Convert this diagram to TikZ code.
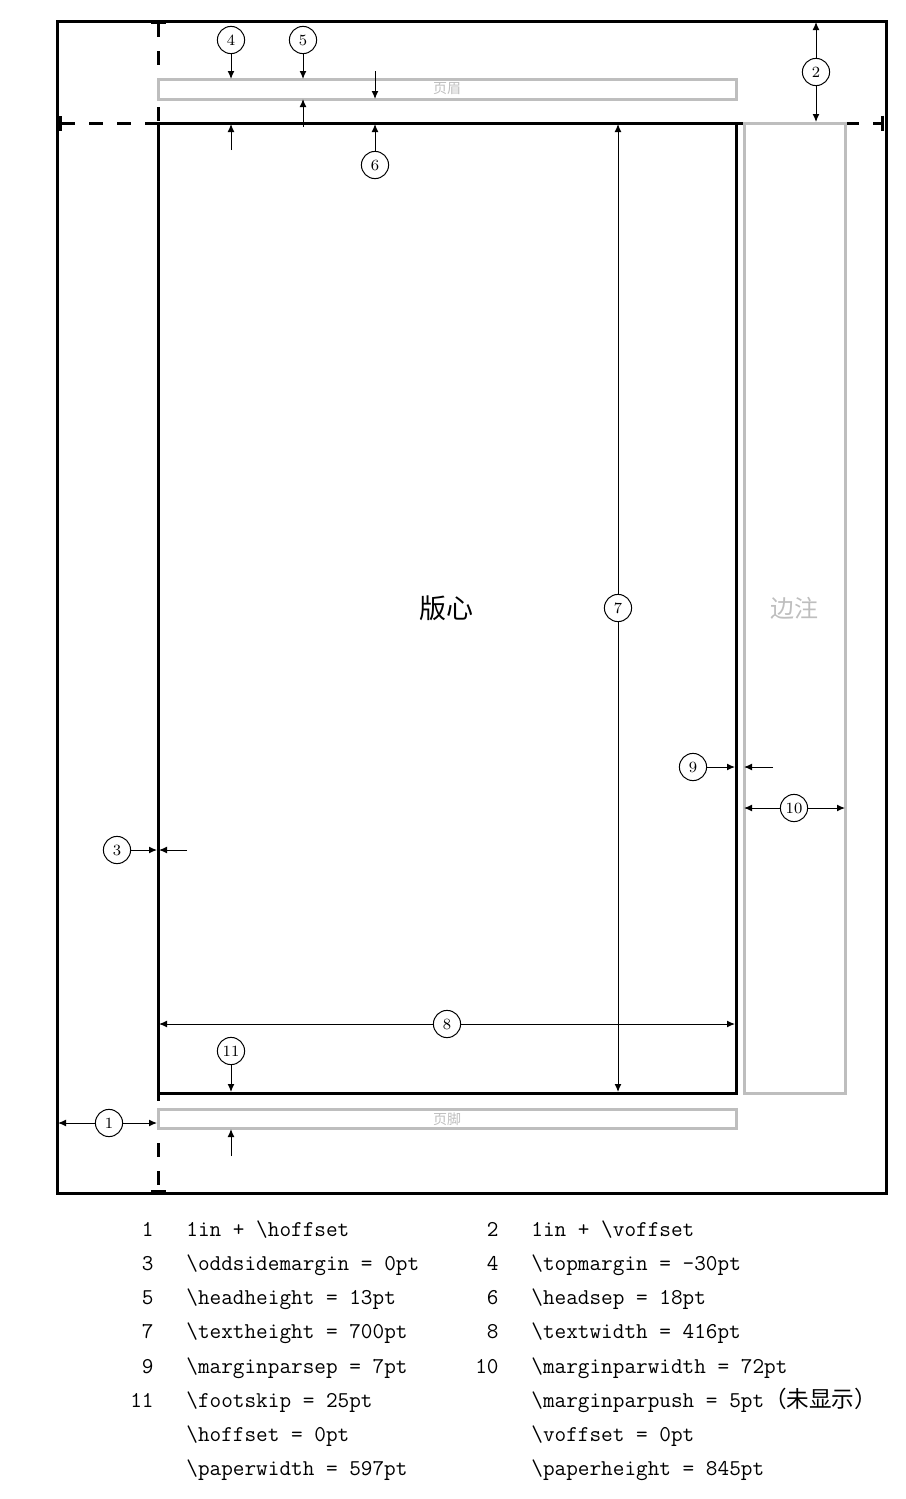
\documentclass[tikz,border=0pt]{standalone}
\usepackage{fontspec}
\newfontfamily\cjk{Noto Sans CJK SC}
\usetikzlibrary{arrows.meta}
\definecolor{boxgray}{RGB}{190,190,190}
\begin{document}
\begin{tikzpicture}[x=0.5pt,y=-0.5pt,
  thickline/.style={line width=1.5pt},
  dashline/.style={line width=1.5pt,dash pattern=on 7pt off 7pt,{Bar[width=7.5pt]}-{Bar[width=7.5pt]}},
  graybox/.style={draw=boxgray,line width=1.5pt},
  num/.style={circle,draw,line width=0.5pt,minimum size=13.6pt,inner sep=0pt,fill=white,font=\fontsize{7.8}{8}\selectfont},
  dim/.style={line width=0.5pt,-{Latex[length=4pt,width=3.4pt]}},
  leg/.style={anchor=base west,font=\fontsize{11.3}{13}\selectfont\ttfamily,inner sep=0pt},
  legnum/.style={anchor=base east,font=\fontsize{11.3}{13}\selectfont\ttfamily,inner sep=0pt},
]
\useasboundingbox (0,0) rectangle (905,1499);

% dashed reference lines
\draw[dashline] (158,21) -- (158,1193);
\draw[dashline] (59,123) -- (884,123);

% paper
\draw[thickline] (57,21) rectangle (886,1193);

% boxes
\draw[graybox] (158,79) rectangle (736,99);
\node[text=boxgray,font=\cjk\fontsize{7}{8}\selectfont] (head) at (447,89) {页眉};
\draw[graybox] (158,1109) rectangle (736,1128);
\node[text=boxgray,font=\cjk\fontsize{7}{8}\selectfont] (foot) at (447,1119) {页脚};
\draw[graybox] (744,123) rectangle (845,1093);
\node[text=boxgray,font=\cjk\fontsize{12}{14}\selectfont] (mpar) at (794,608) {边注};
\draw[thickline] (158,123) rectangle (736,1093);
\node[font=\cjk\fontsize{13.5}{16}\selectfont] (body) at (446,608) {版心};

% target coordinates
\coordinate (t1l) at (58,1123);
\coordinate (t1r) at (157,1123);
\coordinate (t2u) at (816,22);
\coordinate (t2d) at (816,122);
\coordinate (t3a) at (157,850);
\coordinate (s3b) at (187,850);
\coordinate (t3b) at (159,850);
\coordinate (t4a) at (231,79);
\coordinate (s4b) at (231,150);
\coordinate (t4b) at (231,124);
\coordinate (t5a) at (303,79);
\coordinate (s5b) at (303,127);
\coordinate (t5b) at (303,99);
\coordinate (s6a) at (375,71);
\coordinate (t6a) at (375,99);
\coordinate (t6b) at (375,124);
\coordinate (t7u) at (618,124);
\coordinate (t7d) at (618,1092);
\coordinate (t8l) at (159,1024);
\coordinate (t8r) at (735,1024);
\coordinate (t9a) at (735,767);
\coordinate (s9b) at (773,767);
\coordinate (t9b) at (744,767);
\coordinate (t10l) at (744,808);
\coordinate (t10r) at (845,808);
\coordinate (t11a) at (231,1092);
\coordinate (s11b) at (231,1156);
\coordinate (t11b) at (231,1129);

% numbered circles
\node[num] (c1) at (109,1123) {1};
\node[num] (c2) at (816,72) {2};
\node[num] (c3) at (117,850) {3};
\node[num] (c4) at (231,40) {4};
\node[num] (c5) at (303,40) {5};
\node[num] (c6) at (375,165) {6};
\node[num] (c7) at (618,608) {7};
\node[num] (c8) at (447,1024) {8};
\node[num] (c9) at (693,767) {9};
\node[num] (c10) at (794,808) {10};
\node[num] (c11) at (231,1051) {11};

% dimension arrows
\draw[dim] (c1) -- (t1l);
\draw[dim] (c1) -- (t1r);
\draw[dim] (c2) -- (t2u);
\draw[dim] (c2) -- (t2d);
\draw[dim] (c3) -- (t3a);
\draw[dim] (s3b) -- (t3b);
\draw[dim] (c4) -- (t4a);
\draw[dim] (s4b) -- (t4b);
\draw[dim] (c5) -- (t5a);
\draw[dim] (s5b) -- (t5b);
\draw[dim] (s6a) -- (t6a);
\draw[dim] (c6) -- (t6b);
\draw[dim] (c7) -- (t7u);
\draw[dim] (c7) -- (t7d);
\draw[dim] (c8) -- (t8l);
\draw[dim] (c8) -- (t8r);
\draw[dim] (c9) -- (t9a);
\draw[dim] (s9b) -- (t9b);
\draw[dim] (c10) -- (t10l);
\draw[dim] (c10) -- (t10r);
\draw[dim] (c11) -- (t11a);
\draw[dim] (s11b) -- (t11b);

% legend
\node[legnum] (n1) at (154,1236) {1};
\node[leg] (l1) at (186,1236) {1in + \textbackslash hoffset};
\node[legnum] (n2) at (499,1236) {2};
\node[leg] (l2) at (531,1236) {1in + \textbackslash voffset};
\node[legnum] (n3) at (154,1270) {3};
\node[leg] (l3) at (186,1270) {\textbackslash oddsidemargin = 0pt};
\node[legnum] (n4) at (499,1270) {4};
\node[leg] (l4) at (531,1270) {\textbackslash topmargin = -30pt};
\node[legnum] (n5) at (154,1304) {5};
\node[leg] (l5) at (186,1304) {\textbackslash headheight = 13pt};
\node[legnum] (n6) at (499,1304) {6};
\node[leg] (l6) at (531,1304) {\textbackslash headsep = 18pt};
\node[legnum] (n7) at (154,1338) {7};
\node[leg] (l7) at (186,1338) {\textbackslash textheight = 700pt};
\node[legnum] (n8) at (499,1338) {8};
\node[leg] (l8) at (531,1338) {\textbackslash textwidth = 416pt};
\node[legnum] (n9) at (154,1373) {9};
\node[leg] (l9) at (186,1373) {\textbackslash marginparsep = 7pt};
\node[legnum] (n10) at (499,1373) {10};
\node[leg] (l10) at (531,1373) {\textbackslash marginparwidth = 72pt};
\node[legnum] (n11) at (154,1407) {11};
\node[leg] (l11) at (186,1407) {\textbackslash footskip = 25pt};
\node[leg] (l12) at (531,1407) {\textbackslash marginparpush = 5pt{\cjk （未显示）}};
\node[leg] (l13) at (186,1441) {\textbackslash hoffset = 0pt};
\node[leg] (l14) at (531,1441) {\textbackslash voffset = 0pt};
\node[leg] (l15) at (186,1475) {\textbackslash paperwidth = 597pt};
\node[leg] (l16) at (531,1475) {\textbackslash paperheight = 845pt};
\end{tikzpicture}
\end{document}
